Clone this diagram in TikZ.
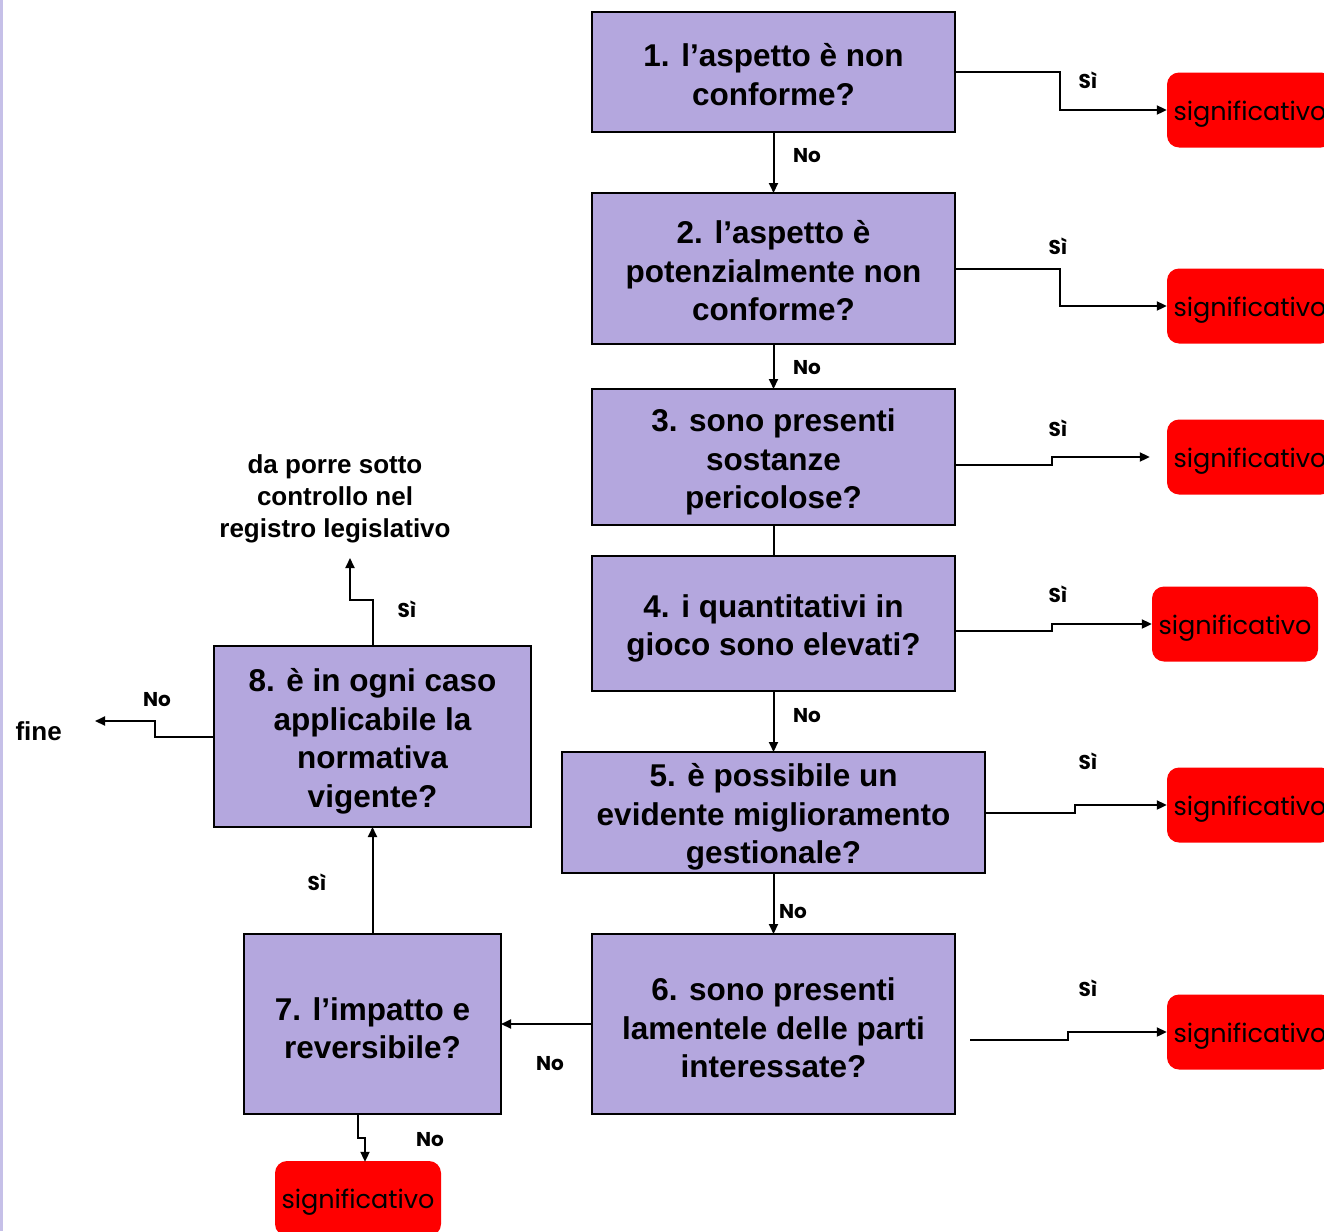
\documentclass[tikz,border=0pt]{standalone}
\usepackage{fontspec}
\setmainfont{Liberation Sans}
\newfontfamily\gothic{Poppins}
\usetikzlibrary{arrows.meta}
\definecolor{boxfill}{HTML}{B4A7DE}
\definecolor{strip}{HTML}{C6C0E8}
\begin{document}
\begin{tikzpicture}[x=1pt,y=-1pt,
  q/.style={draw=black, line width=2.5pt, fill=boxfill, inner sep=0pt, outer sep=0pt},
  qt/.style={align=center, inner sep=0pt, font=\bfseries\fontsize{31.5}{38.5}\selectfont},
  sig/.style={fill=red, rounded corners=12pt, minimum width=166pt, minimum height=75pt, inner sep=0pt,
            text height=26pt, text depth=5.5pt, font=\gothic\fontsize{25.5}{30}\selectfont},
  lbl/.style={font=\gothic\bfseries\fontsize{20}{24}\selectfont},
  txt/.style={align=center, font=\bfseries\fontsize{26}{32}\selectfont},
  conn/.style={line width=2pt, -{Triangle[length=10pt,width=9pt]}},
  plainln/.style={line width=2pt}]
\useasboundingbox (0,0) rectangle (1324,1231);
\clip (0,0) rectangle (1324,1231);
\fill[white] (0,0) rectangle (1324,1231);
\fill[strip] (0,0) rectangle (2.5,1231);

% question boxes
\node[q, minimum width=363pt, minimum height=120pt] (b1) at (773.5,72) {};
\node[q, minimum width=363pt, minimum height=151pt] (b2) at (773.5,268.5) {};
\node[q, minimum width=363pt, minimum height=136pt] (b3) at (773.5,457) {};
\node[q, minimum width=363pt, minimum height=135pt] (b4) at (773.5,623.5) {};
\node[q, minimum width=423pt, minimum height=121pt] (b5) at (773.5,812.5) {};
\node[q, minimum width=363pt, minimum height=180pt] (b6) at (773.5,1024) {};
\node[q, minimum width=257pt, minimum height=180pt] (b7) at (372.5,1024) {};
\node[q, minimum width=317pt, minimum height=181pt] (b8) at (372.5,736.5) {};

\node[qt] (t1) at ([yshift=-2.5pt]b1.center) {1. l’aspetto è non\\conforme?};
\node[qt] (t2) at ([yshift=-2.5pt]b2.center) {2. l’aspetto è\\potenzialmente non\\conforme?};
\node[qt] (t3) at ([yshift=-5pt]b3.center) {3. sono presenti\\sostanze\\pericolose?};
\node[qt] (t4) at ([yshift=-5pt]b4.center) {4. i quantitativi in\\gioco sono elevati?};
\node[qt] (t5) at ([yshift=-4.5pt]b5.center) {5. è possibile un\\evidente miglioramento\\gestionale?};
\node[qt] (t6) at ([yshift=-4pt]b6.center) {6. sono presenti\\lamentele delle parti\\interessate?};
\node[qt] (t7) at ([yshift=-4pt]b7.center) {7. l’impatto e\\reversibile?};
\node[qt] (t8) at ([yshift=-5pt]b8.center) {8. è in ogni caso\\applicabile la\\normativa\\vigente?};

% result boxes
\node[sig] (r1) at (1250,110) {significativo};
\node[sig] (r2) at (1250,306) {significativo};
\node[sig] (r3) at (1250,457) {significativo};
\node[sig] (r4) at (1235,624) {significativo};
\node[sig] (r5) at (1250,805) {significativo};
\node[sig] (r6) at (1250,1032) {significativo};
\node[sig] (r7) at (358,1198.5) {significativo};

% texts
\node[txt] (reg) at (335,499) {da porre sotto\\controllo nel\\registro legislativo};
\node[txt, anchor=west] (fine) at (12,731) {fine};
\coordinate (up8) at (350,558);
\coordinate (left8) at (95,721);
\coordinate (s6) at (970,1040);

% connectors
\draw[conn] (b1.east) -- ++(105,0) |- (r1.west);
\draw[conn] (b2.east) -- ++(105,0) |- (r2.west);
\draw[conn] (b3.east |- 0,465) -- (1052,465) |- ([xshift=-17pt]r3.west);
\draw[conn] (b4.east |- 0,631) -- (1052,631) |- (r4.west);
\draw[conn] (b5.east) -- (1075,812.5) |- (r5.west);
\draw[conn] (s6) -- (1068,1040) |- (r6.west);

\draw[conn] (b1.south) -- (b2.north);
\draw[conn] (b2.south) -- (b3.north);
\draw[plainln] (b3.south) -- (b4.north);
\draw[conn] (b4.south) -- (b5.north);
\draw[conn] (b5.south) -- (b6.north);
\draw[conn] (b6.west) -- (b7.east);
\draw[conn] (b7.north) -- (b8.south);
\draw[conn] ([xshift=-14.5pt]b7.south) -- ++(0,24) -| ([xshift=7pt,yshift=-1pt]r7.north);
\draw[conn] (b8.north) -- ++(0,-46) -| (up8);
\draw[conn] (b8.west) -- ++(-59,0) |- (left8);

% labels
\node[lbl] (l1) at (1088,80) {Sì};
\node[lbl] (n1) at (807,156) {No};
\node[lbl] (l2) at (1058,246) {Sì};
\node[lbl] (n2) at (807,368) {No};
\node[lbl] (l3) at (1058,428) {Sì};
\node[lbl] (l4) at (1058,594) {Sì};
\node[lbl] (n4) at (807,716) {No};
\node[lbl] (l5) at (1088,761) {Sì};
\node[lbl] (n5) at (793,912) {No};
\node[lbl] (l6) at (1088,988) {Sì};
\node[lbl] (n6) at (550,1064) {No};
\node[lbl] (l7) at (317,882) {Sì};
\node[lbl] (n7) at (430,1140) {No};
\node[lbl] (l8) at (407,609) {Sì};
\node[lbl] (n8) at (157,700) {No};
\end{tikzpicture}
\end{document}
